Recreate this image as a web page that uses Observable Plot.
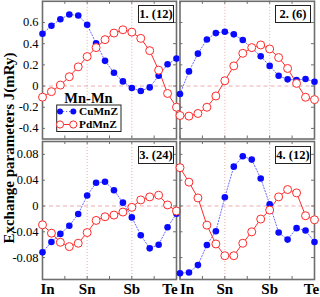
<!DOCTYPE html>
<html><head><meta charset="utf-8">
<script src="https://cdn.jsdelivr.net/npm/d3@7"></script>
<script src="https://cdn.jsdelivr.net/npm/@observablehq/plot@0.6"></script>
<style>
body{margin:0;background:#fff;}
#chart{position:relative;width:320px;height:297px;font-family:"Liberation Serif","Times New Roman",serif;overflow:hidden;}
#chart svg.plot-panel{position:absolute;}
.box{position:absolute;background:#fff;border:1px solid #222;font:bold 12.5px "Liberation Serif",serif;text-align:center;box-sizing:border-box;line-height:16px;color:#000;}
#ytitle{position:absolute;left:9px;top:148px;transform:translate(-50%,-50%) rotate(-90deg);white-space:nowrap;font:bold 15px "Liberation Serif",serif;color:#000;}
</style></head><body><div id="chart"></div>
<script>
// ---- data ----
const sites = ["In", "Sn", "Sb", "Te"];
const sitePos = [0, 5, 10, 15];
const xIdx = [0,1,2,3,4,5,6,7,8,9,10,11,12,13,14,15];
const xTicks = [0, 2.5, 5, 7.5, 10, 12.5, 15];
const panelLabels = ["1. (12)", "2. (6)", "3. (24)", "4. (12)"];
const seriesNames = ["CuMnZ", "PdMnZ"];
const groupTitle = "Mn-Mn";
const yTitle = "Exchange parameters J(mRy)";

const cu1 = [0.494,0.569,0.631,0.675,0.666,0.578,0.403,0.238,0.125,0.044,-0.019,-0.047,-0.013,0.097,0.205,0.259];
const pd1 = [-0.105,-0.053,0.009,0.088,0.181,0.278,0.363,0.438,0.500,0.531,0.509,0.450,0.334,0.150,-0.070,-0.200];
const cu2 = [-0.075,0.138,0.306,0.440,0.500,0.513,0.488,0.434,0.356,0.281,0.190,0.097,0.063,0.056,0.066,0.041];
const pd2 = [-0.278,-0.284,-0.259,-0.200,-0.094,0.050,0.190,0.309,0.363,0.388,0.350,0.269,0.166,0.025,-0.106,-0.128];
const cu3 = [-0.0719,-0.0558,-0.0433,-0.0307,-0.0125,0.0162,0.0360,0.0375,0.0245,0.0052,-0.0177,-0.0453,-0.0657,-0.0600,-0.0330,-0.0120];
const pd3 = [-0.0292,-0.0422,-0.0563,-0.0630,-0.0578,-0.0412,-0.0224,-0.0167,-0.0141,-0.0094,-0.0021,0.0094,0.0141,0.0167,0.0016,-0.0078];
const cu4 = [-0.1042,-0.1032,-0.0917,-0.0604,-0.0391,0.0135,0.0610,0.0771,0.0719,0.0427,0.0026,-0.0412,-0.0521,-0.0344,-0.0380,-0.0558];
const pd4 = [0.0594,0.0370,0.0125,-0.0297,-0.0589,-0.0771,-0.0771,-0.0578,-0.0401,-0.0203,-0.0063,0.0141,0.0255,0.0203,-0.0151,-0.0214];

const yDomTop = [-0.5, 0.8];
const yTicksTop = [-0.4, -0.2, 0, 0.2, 0.4, 0.6];
const yDomBot = [-0.114, 0.1];
const yTicksBot = [-0.08, -0.04, 0, 0.04, 0.08];

// ---- styles ----
const FONT = '"Liberation Serif","Times New Roman",serif';
const BLUE = "#0a0aff", BLUE_LINE = "#6a6aff", RED = "#ff2a2a", FRAME = "#6e6e6e", GRID = "#e6a3a3";

const chart = document.getElementById("chart");
const series = vals => xIdx.map((x, i) => ({x, y: vals[i]}));
const fmtY = d => d === 0 ? "0" : String(d);

function panel({cu, pd, yDomain, yTicks, yLabels, xLabels, dxFirst = 0, dxLast = 0, left, top, width, height, mL, mR, mT, mB}) {
  const xDom = [0, 15];
  const xt = 0.33, yt = (yDomain[1] - yDomain[0]) * 0.022;
  const marks = [
    Plot.ruleY([0], {stroke: GRID, strokeDasharray: "4,3", strokeWidth: 0.9}),
    Plot.ruleX([sitePos[1], sitePos[2]], {stroke: GRID, strokeDasharray: "1,2", strokeWidth: 0.9}),
    Plot.ruleY(yTicks, {x1: xDom[0], x2: xDom[0] + xt, stroke: FRAME}),
    Plot.ruleY(yTicks, {x1: xDom[1] - xt, x2: xDom[1], stroke: FRAME}),
    Plot.ruleX(xTicks, {y1: yDomain[0], y2: yDomain[0] + yt, stroke: FRAME}),
    Plot.ruleX(xTicks, {y1: yDomain[1] - yt, y2: yDomain[1], stroke: FRAME}),
    Plot.frame({stroke: FRAME, strokeWidth: 1.6}),
    Plot.line(series(cu), {x: "x", y: "y", stroke: BLUE_LINE, strokeWidth: 1, strokeDasharray: "1.2,1.8"}),
    Plot.line(series(pd), {x: "x", y: "y", stroke: RED, strokeWidth: 1}),
    Plot.dot(series(cu), {x: "x", y: "y", fill: BLUE, r: 3.3}),
    Plot.dot(series(pd), {x: "x", y: "y", fill: "white", stroke: RED, strokeWidth: 1, r: 4})
  ];
  if (yLabels) marks.push(Plot.axisY({ticks: yTicks, tickSize: 0, tickPadding: 4, tickFormat: fmtY, fontSize: 12.5, anchor: "left", label: null}));
  if (xLabels) {
    const lab = d => sites[sitePos.indexOf(d)];
    const common = {tickSize: 0, tickPadding: 4, tickFormat: lab, fontSize: 15, fontWeight: "bold", anchor: "bottom", label: null};
    marks.push(Plot.axisX({...common, ticks: [sitePos[0]], dx: dxFirst}));
    marks.push(Plot.axisX({...common, ticks: [sitePos[1], sitePos[2]]}));
    marks.push(Plot.axisX({...common, ticks: [sitePos[3]], dx: dxLast}));
  }
  const svg = Plot.plot({
    width, height, marginLeft: mL, marginRight: mR, marginTop: mT, marginBottom: mB,
    x: {domain: xDom, axis: xLabels ? undefined : null},
    y: {domain: yDomain, axis: yLabels ? undefined : null},
    style: {fontFamily: FONT, background: "transparent", overflow: "visible", color: "#000"},
    marks
  });
  svg.classList.add("plot-panel");
  svg.style.left = left + "px";
  svg.style.top = top + "px";
  chart.appendChild(svg);
}

panel({cu: cu1, pd: pd1, yDomain: yDomTop, yTicks: yTicksTop, yLabels: true, xLabels: false, left: 0, top: 0, width: 177, height: 139.5, mL: 42, mR: 1, mT: 0.8, mB: 1});
panel({cu: cu2, pd: pd2, yDomain: yDomTop, yTicks: yTicksTop, yLabels: false, xLabels: false, left: 178, top: 0, width: 137, height: 139.5, mL: 1.5, mR: 1, mT: 0.8, mB: 1});
panel({cu: cu3, pd: pd3, yDomain: yDomBot, yTicks: yTicksBot, yLabels: true, xLabels: true, dxFirst: 5, dxLast: -6.5, left: 0, top: 140, width: 177, height: 157, mL: 42, mR: 1, mT: 1, mB: 18});
panel({cu: cu4, pd: pd4, yDomain: yDomBot, yTicks: yTicksBot, yLabels: false, xLabels: true, dxFirst: 7, dxLast: -3, left: 178, top: 140, width: 137, height: 157, mL: 1.5, mR: 1, mT: 1, mB: 18});

// panel label boxes
const boxPos = [[138, 4.5], [275, 4.5], [138, 145.5], [275, 145.5]];
panelLabels.forEach((t, i) => {
  const d = document.createElement("div");
  d.className = "box";
  d.textContent = t;
  d.style.left = boxPos[i][0] + "px";
  d.style.top = boxPos[i][1] + "px";
  d.style.width = "36px";
  d.style.height = "18px";
  chart.appendChild(d);
});

// y title
const yt = document.createElement("div");
yt.id = "ytitle";
yt.textContent = yTitle;
chart.appendChild(yt);

// legend
const lg = d3.create("svg").attr("width", 72).attr("height", 48)
  .style("position", "absolute").style("left", "54px").style("top", "88px").style("overflow", "visible");
lg.append("text").attr("x", 34.5).attr("y", 14.5).attr("text-anchor", "middle")
  .attr("font-family", FONT).attr("font-weight", "bold").attr("font-size", 14.5).text(groupTitle);
lg.append("rect").attr("x", 2.7).attr("y", 17).attr("width", 64.3).attr("height", 26.5)
  .attr("fill", "#fff").attr("stroke", "#222").attr("stroke-width", 1);
const rows = [
  {y: 23.5, stroke: BLUE_LINE, dash: "1.2,1.8", fill: BLUE, mstroke: "none", r: 3},
  {y: 36.5, stroke: RED, dash: null, fill: "#fff", mstroke: RED, r: 3.6}
];
rows.forEach((rw, i) => {
  lg.append("line").attr("x1", 6).attr("x2", 19.3).attr("y1", rw.y).attr("y2", rw.y)
    .attr("stroke", rw.stroke).attr("stroke-dasharray", rw.dash);
  [6, 19.3].forEach(cx => lg.append("circle").attr("cx", cx).attr("cy", rw.y).attr("r", rw.r)
    .attr("fill", rw.fill).attr("stroke", rw.mstroke));
  lg.append("text").attr("x", 25).attr("y", rw.y + 3.9).attr("font-family", FONT)
    .attr("font-weight", "bold").attr("font-size", 11.3).text(seriesNames[i]);
});
chart.appendChild(lg.node());
</script>
</body></html>
